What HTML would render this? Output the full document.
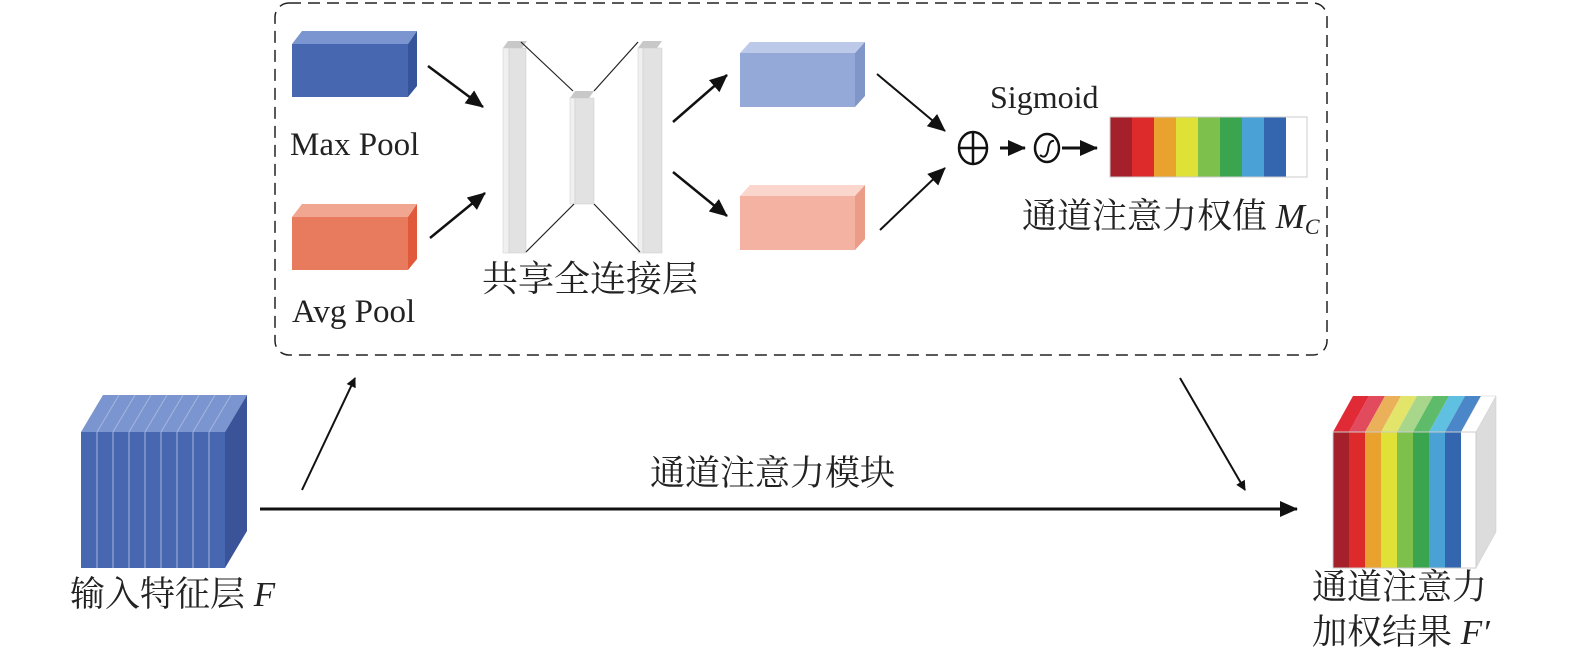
<!DOCTYPE html>
<html><head><meta charset="utf-8"><style>
body{margin:0;background:#fff;}
svg{display:block;}
text{font-family:"Liberation Serif","Noto Serif CJK SC",serif;fill:#222;}
</style></head><body>
<svg width="1575" height="656" viewBox="0 0 1575 656" xmlns="http://www.w3.org/2000/svg">
<defs>
<marker id="ah" markerWidth="10" markerHeight="10" refX="9" refY="5" orient="auto" markerUnits="userSpaceOnUse" viewBox="0 0 10 10">
<path d="M0,0 L10,5 L0,10 z" fill="#111"/></marker>
<marker id="ab" markerWidth="18" markerHeight="16" refX="17" refY="8" orient="auto" markerUnits="userSpaceOnUse" viewBox="0 0 18 16">
<path d="M0,0 L18,8 L0,16 z" fill="#111"/></marker>
</defs>
<rect x="275" y="3" width="1052" height="352" rx="14" fill="none" stroke="#222" stroke-width="1.5" stroke-dasharray="12,7"/>

<polygon points="292,44 302,31 417,31 408,44" fill="#7a95cf"/>
<polygon points="408,44 417,31 417,86 408,97" fill="#36549a"/>
<rect x="292" y="44" width="116" height="53" fill="#4767b0"/>
<text x="290" y="155" font-size="33">Max Pool</text>
<polygon points="292,217 302,204 417,204 408,217" fill="#f0a690"/>
<polygon points="408,217 417,204 417,259 408,270" fill="#e0593a"/>
<rect x="292" y="217" width="116" height="53" fill="#e87a5e"/>
<text x="292" y="322" font-size="33">Avg Pool</text>

<line x1="428" y1="66" x2="483" y2="107" stroke="#111" stroke-width="2.5" marker-end="url(#ab)"/>
<line x1="430" y1="238" x2="485" y2="193" stroke="#111" stroke-width="2.5" marker-end="url(#ab)"/>

<polygon points="503,48 508,41 527,41 522,48" fill="#c8c8c8"/>
<rect x="503" y="48" width="6" height="205" fill="#f0f0f0" stroke="#ccc" stroke-width="0.5"/>
<rect x="509" y="48" width="17" height="205" fill="#e2e2e2" stroke="#ccc" stroke-width="0.5"/>
<polygon points="570,98 575,91 594,91 589,98" fill="#c8c8c8"/>
<rect x="570" y="98" width="5" height="106" fill="#f0f0f0" stroke="#ccc" stroke-width="0.5"/>
<rect x="575" y="98" width="19" height="106" fill="#e2e2e2" stroke="#ccc" stroke-width="0.5"/>
<polygon points="638,48 643,41 662,41 657,48" fill="#c8c8c8"/>
<rect x="638" y="48" width="5" height="205" fill="#f0f0f0" stroke="#ccc" stroke-width="0.5"/>
<rect x="643" y="48" width="19" height="205" fill="#e2e2e2" stroke="#ccc" stroke-width="0.5"/>
<g stroke="#222" stroke-width="1.2">
<line x1="521" y1="42" x2="573" y2="91"/>
<line x1="526" y1="252" x2="574" y2="204"/>
<line x1="594" y1="91" x2="638" y2="42"/>
<line x1="594" y1="204" x2="640" y2="252"/>
</g>
<text x="482" y="291" font-size="36">共享全连接层</text>

<line x1="673" y1="122" x2="727" y2="75" stroke="#111" stroke-width="2.5" marker-end="url(#ab)"/>
<line x1="673" y1="172" x2="727" y2="216" stroke="#111" stroke-width="2.5" marker-end="url(#ab)"/>

<polygon points="740,53 750,42 865,42 855,53" fill="#bcc9e8"/>
<polygon points="855,53 865,42 865,96 855,107" fill="#8196c8"/>
<rect x="740" y="53" width="115" height="54" fill="#94a9d8"/>
<polygon points="740,196 750,185 865,185 855,196" fill="#fbd6cc"/>
<polygon points="855,196 865,185 865,239 855,250" fill="#ea9c88"/>
<rect x="740" y="196" width="115" height="54" fill="#f4b2a2"/>

<line x1="877" y1="74" x2="945" y2="131" stroke="#111" stroke-width="2" marker-end="url(#ab)"/>
<line x1="880" y1="230" x2="945" y2="168" stroke="#111" stroke-width="2" marker-end="url(#ab)"/>

<ellipse cx="973" cy="148" rx="14" ry="16" fill="none" stroke="#111" stroke-width="2.5"/>
<line x1="959" y1="148" x2="987" y2="148" stroke="#111" stroke-width="2.5"/>
<line x1="973" y1="132" x2="973" y2="164" stroke="#111" stroke-width="2.5"/>
<line x1="1000" y1="148" x2="1025" y2="148" stroke="#111" stroke-width="3" marker-end="url(#ab)"/>
<ellipse cx="1047" cy="148" rx="12" ry="14" fill="none" stroke="#111" stroke-width="2.5"/>
<path d="M1040,155 Q1046,160 1048,150 Q1049,140 1054,141" fill="none" stroke="#111" stroke-width="2"/>
<line x1="1062" y1="148" x2="1097" y2="148" stroke="#111" stroke-width="3" marker-end="url(#ab)"/>
<text x="990" y="108" font-size="32">Sigmoid</text>

<g>
<rect x="1110" y="117" width="22" height="60" fill="#a4202a"/>
<rect x="1132" y="117" width="22" height="60" fill="#dd2a2a"/>
<rect x="1154" y="117" width="22" height="60" fill="#e8a22d"/>
<rect x="1176" y="117" width="22" height="60" fill="#dfe136"/>
<rect x="1198" y="117" width="22" height="60" fill="#7dc14c"/>
<rect x="1220" y="117" width="22" height="60" fill="#3aa54e"/>
<rect x="1242" y="117" width="22" height="60" fill="#4aa1d6"/>
<rect x="1264" y="117" width="22" height="60" fill="#3466b0"/>
<rect x="1286" y="117" width="21" height="60" fill="#fff"/>
<rect x="1110" y="117" width="197" height="60" fill="none" stroke="#ccc" stroke-width="1"/>
</g>
<text x="1022" y="228" font-size="35">通道注意力权值 <tspan font-style="italic">M</tspan><tspan font-style="italic" font-size="22" dy="6">C</tspan></text>

<polygon points="81,432 103,395 247,395 225,432" fill="#7a95cf"/>
<polygon points="225,432 247,395 247,531 225,568" fill="#3a5399"/>
<rect x="81" y="432" width="144" height="136" fill="#4767b0"/>
<g stroke="#a7b7dd" stroke-width="1">
<line x1="97" y1="432" x2="97" y2="568"/><line x1="113" y1="432" x2="113" y2="568"/><line x1="129" y1="432" x2="129" y2="568"/><line x1="145" y1="432" x2="145" y2="568"/><line x1="161" y1="432" x2="161" y2="568"/><line x1="177" y1="432" x2="177" y2="568"/><line x1="193" y1="432" x2="193" y2="568"/><line x1="209" y1="432" x2="209" y2="568"/>
<line x1="97" y1="432" x2="119" y2="395"/><line x1="113" y1="432" x2="135" y2="395"/><line x1="129" y1="432" x2="151" y2="395"/><line x1="145" y1="432" x2="167" y2="395"/><line x1="161" y1="432" x2="183" y2="395"/><line x1="177" y1="432" x2="199" y2="395"/><line x1="193" y1="432" x2="215" y2="395"/><line x1="209" y1="432" x2="231" y2="395"/>
</g>
<text x="70" y="606" font-size="35">输入特征层 <tspan font-style="italic">F</tspan></text>

<line x1="302" y1="490" x2="355" y2="378" stroke="#111" stroke-width="2" marker-end="url(#ah)"/>
<line x1="1180" y1="378" x2="1245" y2="490" stroke="#111" stroke-width="2" marker-end="url(#ah)"/>
<line x1="260" y1="509" x2="1297" y2="509" stroke="#111" stroke-width="3" marker-end="url(#ab)"/>
<text x="650" y="485" font-size="35">通道注意力模块</text>

<polygon points="1476,432 1496,396 1496,532 1476,568" fill="#dcdcdc" stroke="#ccc" stroke-width="0.5"/>
<g>
<polygon points="1333,432 1353,396 1369,396 1349,432" fill="#e02a35"/>
<polygon points="1349,432 1369,396 1385,396 1365,432" fill="#e24a5e"/>
<polygon points="1365,432 1385,396 1401,396 1381,432" fill="#eab05a"/>
<polygon points="1381,432 1401,396 1417,396 1397,432" fill="#e3e46a"/>
<polygon points="1397,432 1417,396 1433,396 1413,432" fill="#a8d68a"/>
<polygon points="1413,432 1433,396 1449,396 1429,432" fill="#5dbb6a"/>
<polygon points="1429,432 1449,396 1465,396 1445,432" fill="#5fc0e2"/>
<polygon points="1445,432 1465,396 1481,396 1461,432" fill="#4a86c8"/>
<polygon points="1461,432 1481,396 1496,396 1476,432" fill="#fff" stroke="#ccc" stroke-width="0.5"/>
</g>
<rect x="1333" y="432" width="16" height="136" fill="#a4202a"/>
<rect x="1349" y="432" width="16" height="136" fill="#dd2a2a"/>
<rect x="1365" y="432" width="16" height="136" fill="#e8a22d"/>
<rect x="1381" y="432" width="16" height="136" fill="#dfe136"/>
<rect x="1397" y="432" width="16" height="136" fill="#7dc14c"/>
<rect x="1413" y="432" width="16" height="136" fill="#3aa54e"/>
<rect x="1429" y="432" width="16" height="136" fill="#4aa1d6"/>
<rect x="1445" y="432" width="16" height="136" fill="#3466b0"/>
<rect x="1461" y="432" width="15" height="136" fill="#fff"/>
<rect x="1333" y="432" width="143" height="136" fill="none" stroke="#ccc" stroke-width="1"/>
<text x="1312" y="599" font-size="35">通道注意力</text>
<text x="1312" y="644" font-size="35">加权结果 <tspan font-style="italic">F′</tspan></text>
</svg>
</body></html>
